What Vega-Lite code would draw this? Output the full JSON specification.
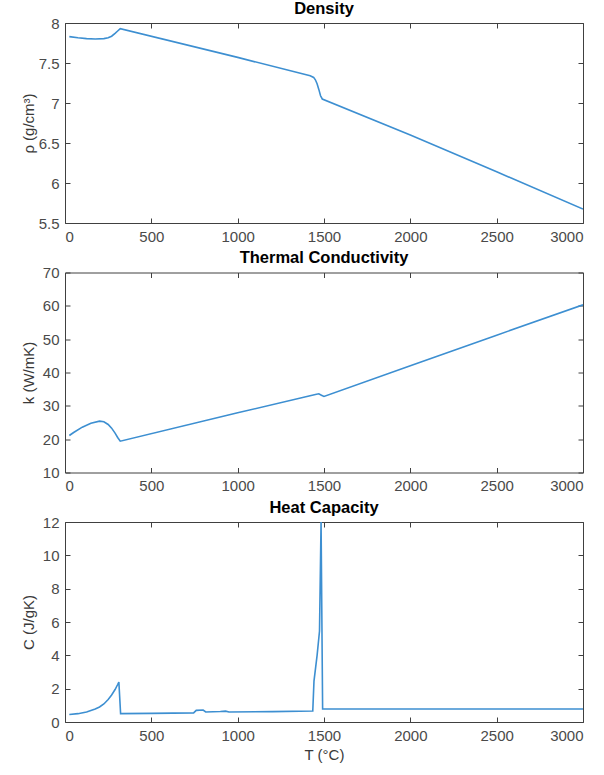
{
  "$schema": "https://vega.github.io/schema/vega-lite/v6.json",
  "background": "white",
  "padding": {"left": 20, "top": 0, "right": 10, "bottom": 5},
  "spacing": 4.5,
  "datasets": {
    "density": [
      {"T": 25, "v": 7.83}, {"T": 75, "v": 7.815}, {"T": 125, "v": 7.805}, {"T": 175, "v": 7.8},
      {"T": 225, "v": 7.805}, {"T": 250, "v": 7.815}, {"T": 270, "v": 7.835}, {"T": 290, "v": 7.87},
      {"T": 305, "v": 7.9}, {"T": 320, "v": 7.93}, {"T": 1000, "v": 7.57}, {"T": 1420, "v": 7.34},
      {"T": 1440, "v": 7.32}, {"T": 1450, "v": 7.29}, {"T": 1460, "v": 7.24}, {"T": 1470, "v": 7.17},
      {"T": 1480, "v": 7.09}, {"T": 1490, "v": 7.05}, {"T": 2000, "v": 6.6}, {"T": 2500, "v": 6.14},
      {"T": 3000, "v": 5.675}
    ],
    "conductivity": [
      {"T": 25, "v": 21.1}, {"T": 50, "v": 22.0}, {"T": 100, "v": 23.6}, {"T": 150, "v": 24.8},
      {"T": 200, "v": 25.4}, {"T": 225, "v": 25.2}, {"T": 250, "v": 24.4}, {"T": 270, "v": 23.3},
      {"T": 290, "v": 21.8}, {"T": 305, "v": 20.5}, {"T": 320, "v": 19.4}, {"T": 1000, "v": 27.9},
      {"T": 1450, "v": 33.4}, {"T": 1470, "v": 33.6}, {"T": 1485, "v": 33.2}, {"T": 1500, "v": 32.8},
      {"T": 2000, "v": 42.0}, {"T": 2500, "v": 51.2}, {"T": 3000, "v": 60.3}
    ],
    "capacity": [
      {"T": 25, "v": 0.45}, {"T": 75, "v": 0.5}, {"T": 125, "v": 0.6}, {"T": 175, "v": 0.78},
      {"T": 200, "v": 0.9}, {"T": 225, "v": 1.08}, {"T": 250, "v": 1.35}, {"T": 270, "v": 1.62},
      {"T": 290, "v": 1.95}, {"T": 305, "v": 2.25}, {"T": 312, "v": 2.4}, {"T": 322, "v": 0.5},
      {"T": 500, "v": 0.52}, {"T": 745, "v": 0.55}, {"T": 760, "v": 0.7}, {"T": 800, "v": 0.72},
      {"T": 815, "v": 0.6}, {"T": 900, "v": 0.63}, {"T": 930, "v": 0.65}, {"T": 950, "v": 0.6},
      {"T": 1200, "v": 0.62}, {"T": 1435, "v": 0.66}, {"T": 1442, "v": 2.45}, {"T": 1460, "v": 4.0},
      {"T": 1474, "v": 5.46}, {"T": 1483, "v": 12.0}, {"T": 1492, "v": 0.78}, {"T": 3000, "v": 0.78}
    ]
  },
  "config": {
    "font": "Liberation Sans",
    "view": {"stroke": "#404040", "strokeWidth": 1},
    "title": {"fontSize": 16.5, "fontWeight": "bold", "color": "#000000", "offset": -1},
    "axis": {
      "domain": false,
      "grid": false,
      "tickSize": -5,
      "tickColor": "#404040",
      "labelFontSize": 15,
      "labelColor": "#4a4a4a",
      "labelPadding": 11,
      "titleFontSize": 15,
      "titleFontWeight": "normal",
      "titleColor": "#3a3a3a"
    }
  },
  "vconcat": [
    {
      "width": 518, "height": 200,
      "title": "Density",
      "data": {"name": "density"},
      "layer": [
        {
          "mark": {"type": "line", "color": "#3d8fd1", "strokeWidth": 1.6, "clip": true},
          "encoding": {
            "x": {"field": "T", "type": "quantitative", "scale": {"domain": [0, 3000], "nice": false},
                  "axis": {"values": [0, 500, 1000, 1500, 2000, 2500, 3000], "format": "d", "title": null}},
            "y": {"field": "v", "type": "quantitative", "scale": {"domain": [5.5, 8], "nice": false, "zero": false},
                  "axis": {"values": [5.5, 6, 6.5, 7, 7.5, 8], "format": "~f", "title": "ρ  (g/cm³)", "titleX": -29}}
          }
        },
        {
          "mark": {"type": "line", "opacity": 0},
          "encoding": {
            "x": {"field": "T", "type": "quantitative", "axis": {"orient": "top", "values": [0, 500, 1000, 1500, 2000, 2500, 3000], "labels": false, "title": null}},
            "y": {"field": "v", "type": "quantitative", "axis": {"orient": "right", "values": [5.5, 6, 6.5, 7, 7.5, 8], "labels": false, "title": null}}
          }
        }
      ],
      "resolve": {"axis": {"x": "independent", "y": "independent"}}
    },
    {
      "width": 518, "height": 200,
      "title": "Thermal Conductivity",
      "data": {"name": "conductivity"},
      "layer": [
        {
          "mark": {"type": "line", "color": "#3d8fd1", "strokeWidth": 1.6, "clip": true},
          "encoding": {
            "x": {"field": "T", "type": "quantitative", "scale": {"domain": [0, 3000], "nice": false},
                  "axis": {"values": [0, 500, 1000, 1500, 2000, 2500, 3000], "format": "d", "title": null}},
            "y": {"field": "v", "type": "quantitative", "scale": {"domain": [10, 70], "nice": false, "zero": false},
                  "axis": {"values": [10, 20, 30, 40, 50, 60, 70], "format": "~f", "title": "k  (W/mK)", "titleX": -29}}
          }
        },
        {
          "mark": {"type": "line", "opacity": 0},
          "encoding": {
            "x": {"field": "T", "type": "quantitative", "axis": {"orient": "top", "values": [0, 500, 1000, 1500, 2000, 2500, 3000], "labels": false, "title": null}},
            "y": {"field": "v", "type": "quantitative", "axis": {"orient": "right", "values": [10, 20, 30, 40, 50, 60, 70], "labels": false, "title": null}}
          }
        }
      ],
      "resolve": {"axis": {"x": "independent", "y": "independent"}}
    },
    {
      "width": 518, "height": 200,
      "title": "Heat Capacity",
      "data": {"name": "capacity"},
      "layer": [
        {
          "mark": {"type": "line", "color": "#3d8fd1", "strokeWidth": 1.6, "clip": true},
          "encoding": {
            "x": {"field": "T", "type": "quantitative", "scale": {"domain": [0, 3000], "nice": false},
                  "axis": {"values": [0, 500, 1000, 1500, 2000, 2500, 3000], "format": "d", "title": "T (°C)", "titlePadding": 4}},
            "y": {"field": "v", "type": "quantitative", "scale": {"domain": [0, 12], "nice": false},
                  "axis": {"values": [0, 2, 4, 6, 8, 10, 12], "format": "~f", "title": "C  (J/gK)", "titleX": -29}}
          }
        },
        {
          "mark": {"type": "line", "opacity": 0},
          "encoding": {
            "x": {"field": "T", "type": "quantitative", "axis": {"orient": "top", "values": [0, 500, 1000, 1500, 2000, 2500, 3000], "labels": false, "title": null}},
            "y": {"field": "v", "type": "quantitative", "axis": {"orient": "right", "values": [0, 2, 4, 6, 8, 10, 12], "labels": false, "title": null}}
          }
        }
      ],
      "resolve": {"axis": {"x": "independent", "y": "independent"}}
    }
  ]
}
